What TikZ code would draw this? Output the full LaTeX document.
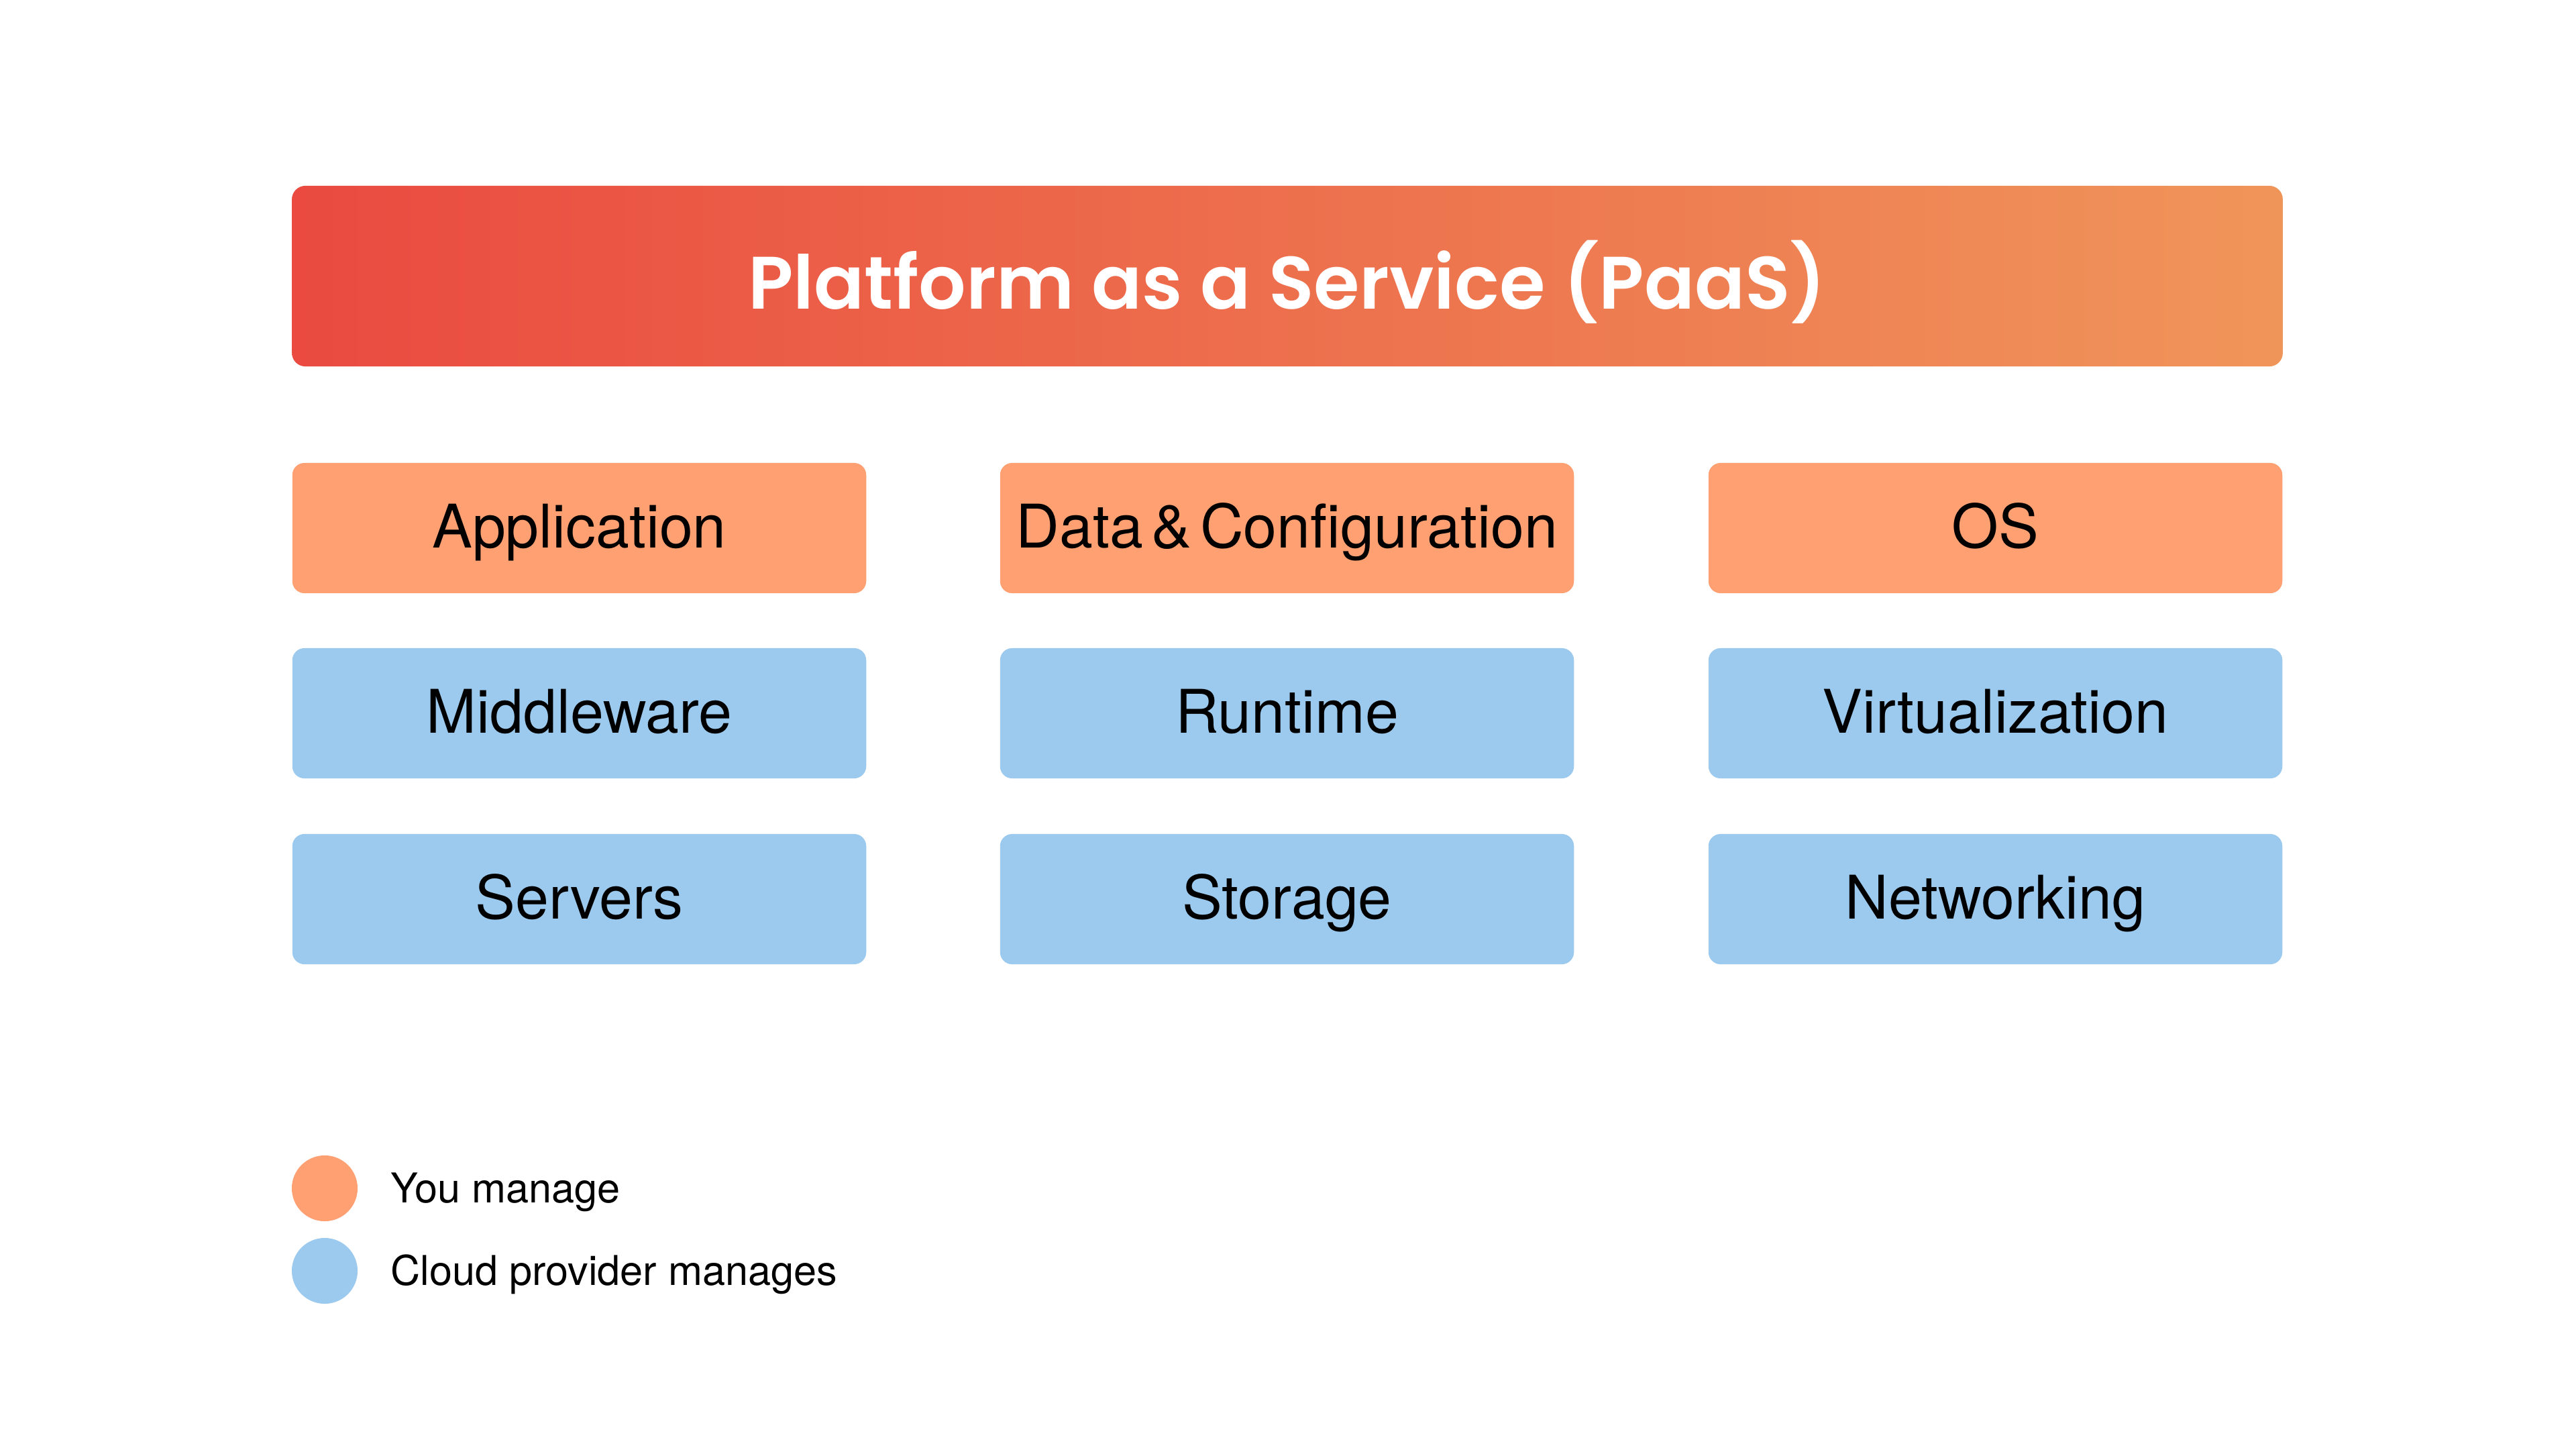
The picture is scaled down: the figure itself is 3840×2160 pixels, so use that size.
\documentclass[tikz,border=0pt]{standalone}
\usepackage{fontspec}
\setmainfont{TeX Gyre Heros}
\newfontfamily\titlefont{Poppins SemiBold}
\definecolor{youorange}{HTML}{FFA072}
\definecolor{cloudblue}{HTML}{9CCAEE}
\definecolor{gradleft}{HTML}{EA4A40}
\definecolor{gradright}{HTML}{F0955A}
\tikzset{
  layerbox/.style={rectangle, rounded corners=0.18cm, minimum width=8.55cm, minimum height=1.94cm, inner sep=0pt, text height=0.58cm, text depth=0cm, font=\fontsize{25.5}{30}\selectfont, text=black},
  youbox/.style={layerbox, fill=youorange},
  cloudbox/.style={layerbox, fill=cloudblue},
  legenddot/.style={circle, minimum size=0.98cm, inner sep=0pt},
  legendtext/.style={anchor=base west, inner sep=0pt, font=\fontsize{17.4}{20}\selectfont}
}
\begin{document}
\begin{tikzpicture}[x=0.01cm, y=-0.01cm]
\useasboundingbox[fill=white] (0,0) rectangle (3840,2160);
\node[rectangle, rounded corners=0.2cm, minimum width=29.66cm, minimum height=2.69cm, inner sep=0pt,
  left color=gradleft, right color=gradright, draw=none, text height=0.98cm, text depth=0cm,
  text=white, font=\titlefont\fontsize{31.5}{38}\selectfont] (title) at (1919,411.5) {Platform as a Service (PaaS)};
\node[youbox] (app) at (863.5,787) {Application};
\node[youbox] (data) at (1918.5,787) {\spaceskip=0.14em Data \& Configuration};
\node[youbox] (os) at (2974.5,787) {OS};
\node[cloudbox] (mid) at (863.5,1063) {Middleware};
\node[cloudbox] (run) at (1918.5,1063) {Runtime};
\node[cloudbox] (virt) at (2974.5,1063) {Virtualization};
\node[cloudbox] (serv) at (863.5,1340) {Servers};
\node[cloudbox] (stor) at (1918.5,1340) {Storage};
\node[cloudbox] (net) at (2974.5,1340) {Networking};
\node[legenddot, fill=youorange] (dotyou) at (484,1771) {};
\node[legenddot, fill=cloudblue] (dotcloud) at (484,1894) {};
\node[legendtext] (txtyou) at (582,1792) {You manage};
\node[legendtext] (txtcloud) at (582,1915) {Cloud provider manages};
\end{tikzpicture}
\end{document}
